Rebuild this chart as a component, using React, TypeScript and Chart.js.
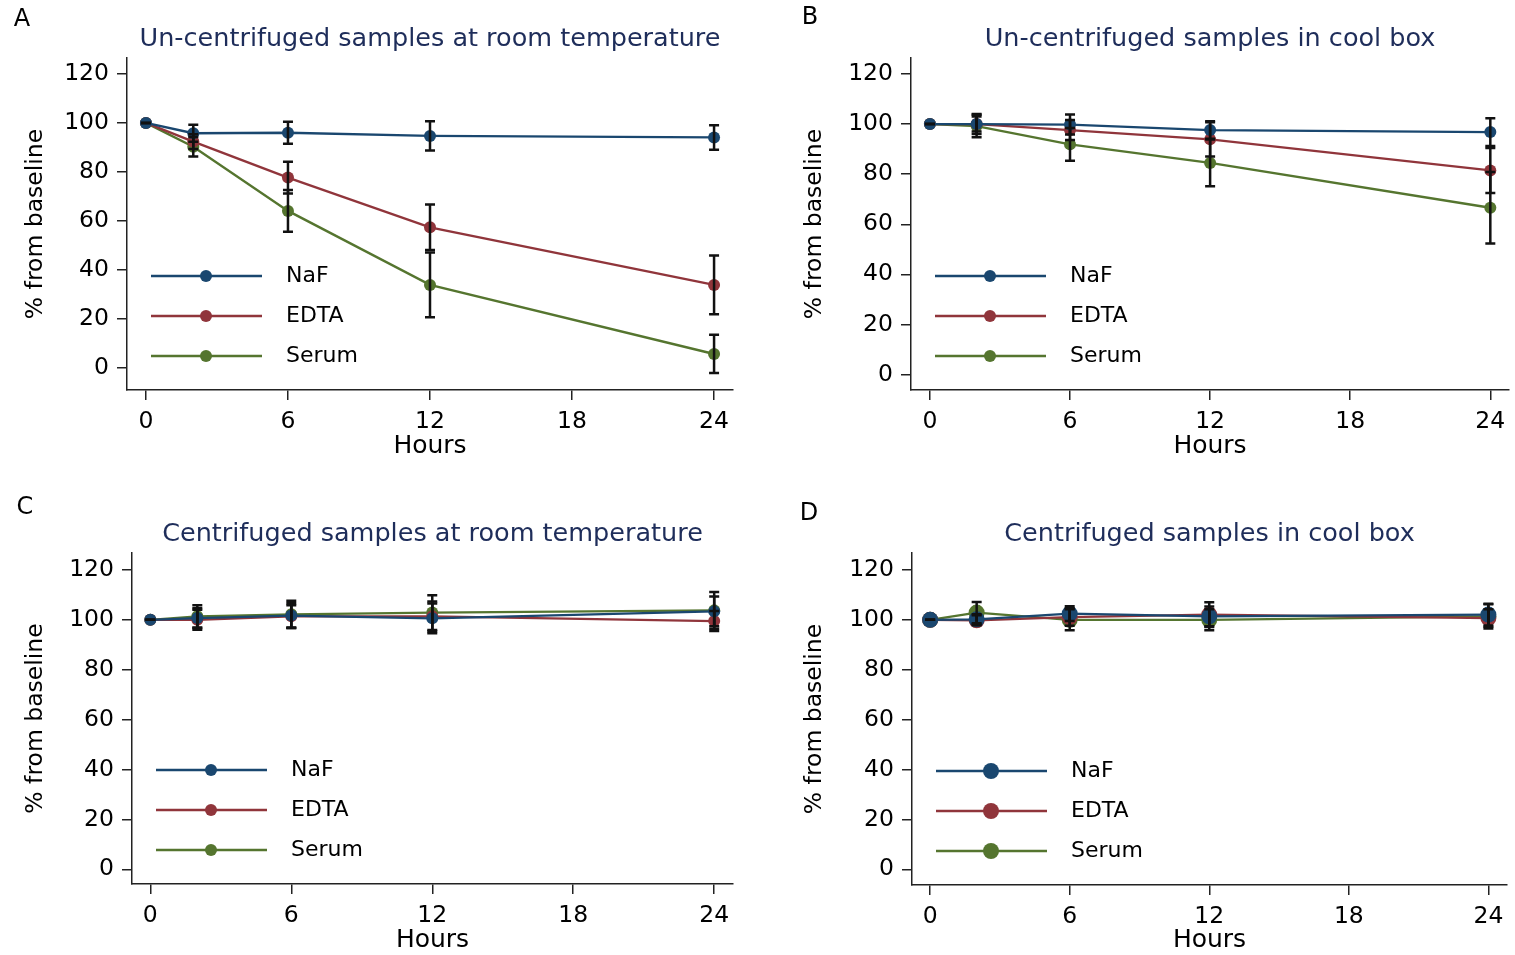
import React, { useEffect, useRef } from "react";
import { Chart, registerables } from "chart.js";

Chart.register(...registerables);

// ---------- data ----------
const HOURS = [0, 2, 6, 12, 24];
const X_TICKS = [0, 6, 12, 18, 24];
const Y_TICKS = [0, 20, 40, 60, 80, 100, 120];
const SERIES_NAMES = ["NaF", "EDTA", "Serum"];
const SERIES_COLORS = ["#1a476f", "#90353b", "#55752f"];

// A: Un-centrifuged samples at room temperature
const A_NAF = [100, 95.8, 96.0, 94.7, 94.1];
const A_NAF_ERR = [0, 3.5, 4.5, 6.0, 5.0];
const A_EDTA = [100, 92.4, 77.7, 57.4, 33.9];
const A_EDTA_ERR = [0, 3.0, 6.5, 9.3, 12.0];
const A_SERUM = [100, 90.3, 64.1, 33.9, 5.7];
const A_SERUM_ERR = [0, 4.0, 8.5, 13.2, 7.8];

// B: Un-centrifuged samples in cool box
const B_NAF = [100, 100.0, 99.8, 97.6, 96.8];
const B_NAF_ERR = [0, 3.0, 4.0, 3.5, 5.5];
const B_EDTA = [100, 100.0, 97.6, 93.9, 81.5];
const B_EDTA_ERR = [0, 4.0, 4.0, 6.8, 9.0];
const B_SERUM = [100, 99.2, 91.9, 84.5, 66.6];
const B_SERUM_ERR = [0, 4.5, 6.5, 9.3, 14.3];

// C: Centrifuged samples at room temperature
const C_NAF = [100, 100.7, 101.7, 100.6, 103.4];
const C_NAF_ERR = [0, 4.0, 5.0, 6.0, 6.0];
const C_EDTA = [100, 100.0, 101.4, 101.4, 99.5];
const C_EDTA_ERR = [0, 4.0, 4.5, 6.0, 4.0];
const C_SERUM = [100, 101.4, 102.2, 102.9, 103.8];
const C_SERUM_ERR = [0, 4.5, 5.5, 7.0, 7.4];

// D: Centrifuged samples in cool box
const D_NAF = [100, 100.2, 102.5, 101.4, 102.1];
const D_NAF_ERR = [0, 2.0, 3.0, 4.0, 4.4];
const D_EDTA = [100, 99.8, 101.1, 102.1, 100.7];
const D_EDTA_ERR = [0, 2.0, 3.5, 5.0, 3.5];
const D_SERUM = [100, 102.9, 100.0, 100.0, 101.4];
const D_SERUM_ERR = [0, 4.3, 4.2, 4.2, 4.9];

const X_TITLE = "Hours";
const Y_TITLE = "% from baseline";

// ---------- styles / layout ----------
const FONT = "'DejaVu Sans', 'Liberation Sans', Arial, sans-serif";
const AXIS_COLOR = "#222222";
const TITLE_COLOR = "#1e2d5a";

type Panel = {
  letter: string;
  title: string;
  left: number;
  top: number;
  w: number;
  h: number;
  pad: { left: number; right: number; top: number };
  yAxisW: number;
  xAxisH: number;
  yMin: number;
  yMax: number;
  xMin: number;
  xMax: number;
  letterPos: [number, number];
  radius: number;
  series: number[][];
  errors: number[][];
};

const PANELS: Panel[] = [
  {
    letter: "A",
    title: "Un-centrifuged samples at room temperature",
    left: 0, top: 0, w: 757, h: 461,
    pad: { left: 0, right: 24, top: 58 },
    yAxisW: 127, xAxisH: 71,
    yMin: -9, yMax: 126.5, xMin: -0.8, xMax: 24.8,
    letterPos: [22, 20], radius: 6,
    series: [A_NAF, A_EDTA, A_SERUM],
    errors: [A_NAF_ERR, A_EDTA_ERR, A_SERUM_ERR],
  },
  {
    letter: "B",
    title: "Un-centrifuged samples in cool box",
    left: 757, top: 0, w: 758, h: 461,
    pad: { left: 22, right: 2, top: 58 },
    yAxisW: 132, xAxisH: 71,
    yMin: -6.2, yMax: 126.4, xMin: -0.81, xMax: 24.8,
    letterPos: [53, 18], radius: 6,
    series: [B_NAF, B_EDTA, B_SERUM],
    errors: [B_NAF_ERR, B_EDTA_ERR, B_SERUM_ERR],
  },
  {
    letter: "C",
    title: "Centrifuged samples at room temperature",
    left: 0, top: 477, w: 757, h: 478,
    pad: { left: 0, right: 24, top: 76 },
    yAxisW: 132, xAxisH: 71,
    yMin: -5.9, yMax: 126.8, xMin: -0.78, xMax: 24.8,
    letterPos: [25, 31], radius: 6,
    series: [C_NAF, C_EDTA, C_SERUM],
    errors: [C_NAF_ERR, C_EDTA_ERR, C_SERUM_ERR],
  },
  {
    letter: "D",
    title: "Centrifuged samples in cool box",
    left: 757, top: 477, w: 758, h: 478,
    pad: { left: 22, right: 2, top: 76 },
    yAxisW: 133, xAxisH: 70,
    yMin: -6.3, yMax: 126.8, xMin: -0.78, xMax: 24.8,
    letterPos: [52, 37], radius: 8,
    series: [D_NAF, D_EDTA, D_SERUM],
    errors: [D_NAF_ERR, D_EDTA_ERR, D_SERUM_ERR],
  },
];

const decorPlugin = {
  id: "decor",
  afterDatasetsDraw(chart: any) {
    const { ctx, scales } = chart;
    const xs = scales.x;
    const ys = scales.y;
    ctx.save();
    ctx.strokeStyle = "#111111";
    ctx.lineWidth = 2.5;
    ctx.lineCap = "butt";
    const cap = 5;
    chart.data.datasets.forEach((ds: any) => {
      const errs: number[] = ds.errors || [];
      ds.data.forEach((pt: any, i: number) => {
        const e = errs[i] ?? 0;
        const x = xs.getPixelForValue(pt.x);
        const yT = ys.getPixelForValue(pt.y + e);
        const yB = ys.getPixelForValue(pt.y - e);
        ctx.beginPath();
        ctx.moveTo(x, yT);
        ctx.lineTo(x, yB);
        ctx.moveTo(x - cap, yT);
        ctx.lineTo(x + cap, yT);
        ctx.moveTo(x - cap, yB);
        ctx.lineTo(x + cap, yB);
        ctx.stroke();
      });
    });
    ctx.restore();
  },
  afterDraw(chart: any, _args: any, opts: any) {
    const { ctx, chartArea } = chart;
    ctx.save();
    // panel letter
    ctx.fillStyle = "#000";
    ctx.font = `24px ${FONT}`;
    ctx.textAlign = "center";
    ctx.textBaseline = "middle";
    ctx.fillText(opts.letter, opts.letterPos[0], opts.letterPos[1]);
    // title
    ctx.fillStyle = TITLE_COLOR;
    ctx.font = `25.5px ${FONT}`;
    ctx.fillText(opts.title, (chartArea.left + chartArea.right) / 2, chartArea.top - 19);
    // legend
    const rows = [-114, -74, -34];
    chart.data.datasets.forEach((ds: any, i: number) => {
      const y = chartArea.bottom + rows[i];
      const x0 = chartArea.left + 24;
      const x1 = chartArea.left + 135;
      const xm = chartArea.left + 79;
      ctx.strokeStyle = ds.borderColor;
      ctx.lineWidth = ds.borderWidth;
      ctx.beginPath();
      ctx.moveTo(x0, y);
      ctx.lineTo(x1, y);
      ctx.stroke();
      ctx.fillStyle = ds.pointBackgroundColor;
      ctx.beginPath();
      ctx.arc(xm, y, ds.pointRadius, 0, Math.PI * 2);
      ctx.fill();
      ctx.fillStyle = "#000";
      ctx.font = `22px ${FONT}`;
      ctx.textAlign = "left";
      ctx.textBaseline = "middle";
      ctx.fillText(ds.label, chartArea.left + 159, y);
    });
    ctx.restore();
  },
};

function PanelChart({ p }: { p: Panel }) {
  const ref = useRef<HTMLCanvasElement | null>(null);
  useEffect(() => {
    if (!ref.current) return;
    const datasets = p.series.map((vals, si) => ({
      label: SERIES_NAMES[si],
      data: HOURS.map((h, i) => ({ x: h, y: vals[i] })),
      errors: p.errors[si],
      borderColor: SERIES_COLORS[si],
      backgroundColor: SERIES_COLORS[si],
      pointBackgroundColor: SERIES_COLORS[si],
      pointBorderColor: SERIES_COLORS[si],
      pointBorderWidth: 0,
      pointRadius: p.radius,
      borderWidth: 2.4,
      tension: 0,
      fill: false,
    }));
    const chart = new Chart(ref.current, {
      type: "line",
      data: { datasets } as any,
      options: {
        responsive: false,
        animation: false,
        devicePixelRatio: 1,
        layout: { padding: { left: p.pad.left, right: p.pad.right, top: p.pad.top, bottom: 0 } },
        plugins: {
          legend: { display: false },
          title: { display: false },
          tooltip: { enabled: false },
          decor: { letter: p.letter, title: p.title, letterPos: p.letterPos },
        } as any,
        scales: {
          x: {
            type: "linear",
            min: p.xMin,
            max: p.xMax,
            afterBuildTicks: (s: any) => {
              s.ticks = X_TICKS.map((v) => ({ value: v }));
            },
            afterFit: (s: any) => {
              s.height = p.xAxisH;
            },
            grid: { drawOnChartArea: false, drawTicks: true, tickLength: 10, color: AXIS_COLOR, lineWidth: 1.5 },
            border: { display: true, color: AXIS_COLOR, width: 1.5 },
            ticks: {
              color: "#000",
              font: { family: FONT, size: 23.5 },
              padding: 8,
              maxRotation: 0,
              autoSkip: false,
              callback: (v: any) => String(v),
            },
            title: {
              display: true,
              text: X_TITLE,
              color: "#000",
              font: { family: FONT, size: 25 },
              padding: { top: 0, bottom: 0 },
            },
          },
          y: {
            type: "linear",
            min: p.yMin,
            max: p.yMax,
            afterBuildTicks: (s: any) => {
              s.ticks = Y_TICKS.map((v) => ({ value: v }));
            },
            afterFit: (s: any) => {
              s.width = p.yAxisW;
            },
            grid: { drawOnChartArea: false, drawTicks: true, tickLength: 10, color: AXIS_COLOR, lineWidth: 1.5 },
            border: { display: true, color: AXIS_COLOR, width: 1.5 },
            ticks: {
              color: "#000",
              font: { family: FONT, size: 23.5 },
              padding: 8,
              autoSkip: false,
              callback: (v: any) => String(v),
            },
            title: {
              display: true,
              text: Y_TITLE,
              color: "#000",
              font: { family: FONT, size: 23.5 },
              padding: { top: 22, bottom: 0 },
            },
          },
        },
      } as any,
      plugins: [decorPlugin as any],
    });
    return () => chart.destroy();
  }, [p]);
  return (
    <canvas
      ref={ref}
      width={p.w}
      height={p.h}
      style={{ position: "absolute", left: p.left, top: p.top, width: p.w, height: p.h, display: "block" }}
    />
  );
}

export default function App() {
  return (
    <div style={{ position: "absolute", left: 0, top: 0, width: 1515, height: 955, background: "#fff", overflow: "hidden" }}>
      {PANELS.map((p) => (
        <PanelChart key={p.letter} p={p} />
      ))}
    </div>
  );
}
